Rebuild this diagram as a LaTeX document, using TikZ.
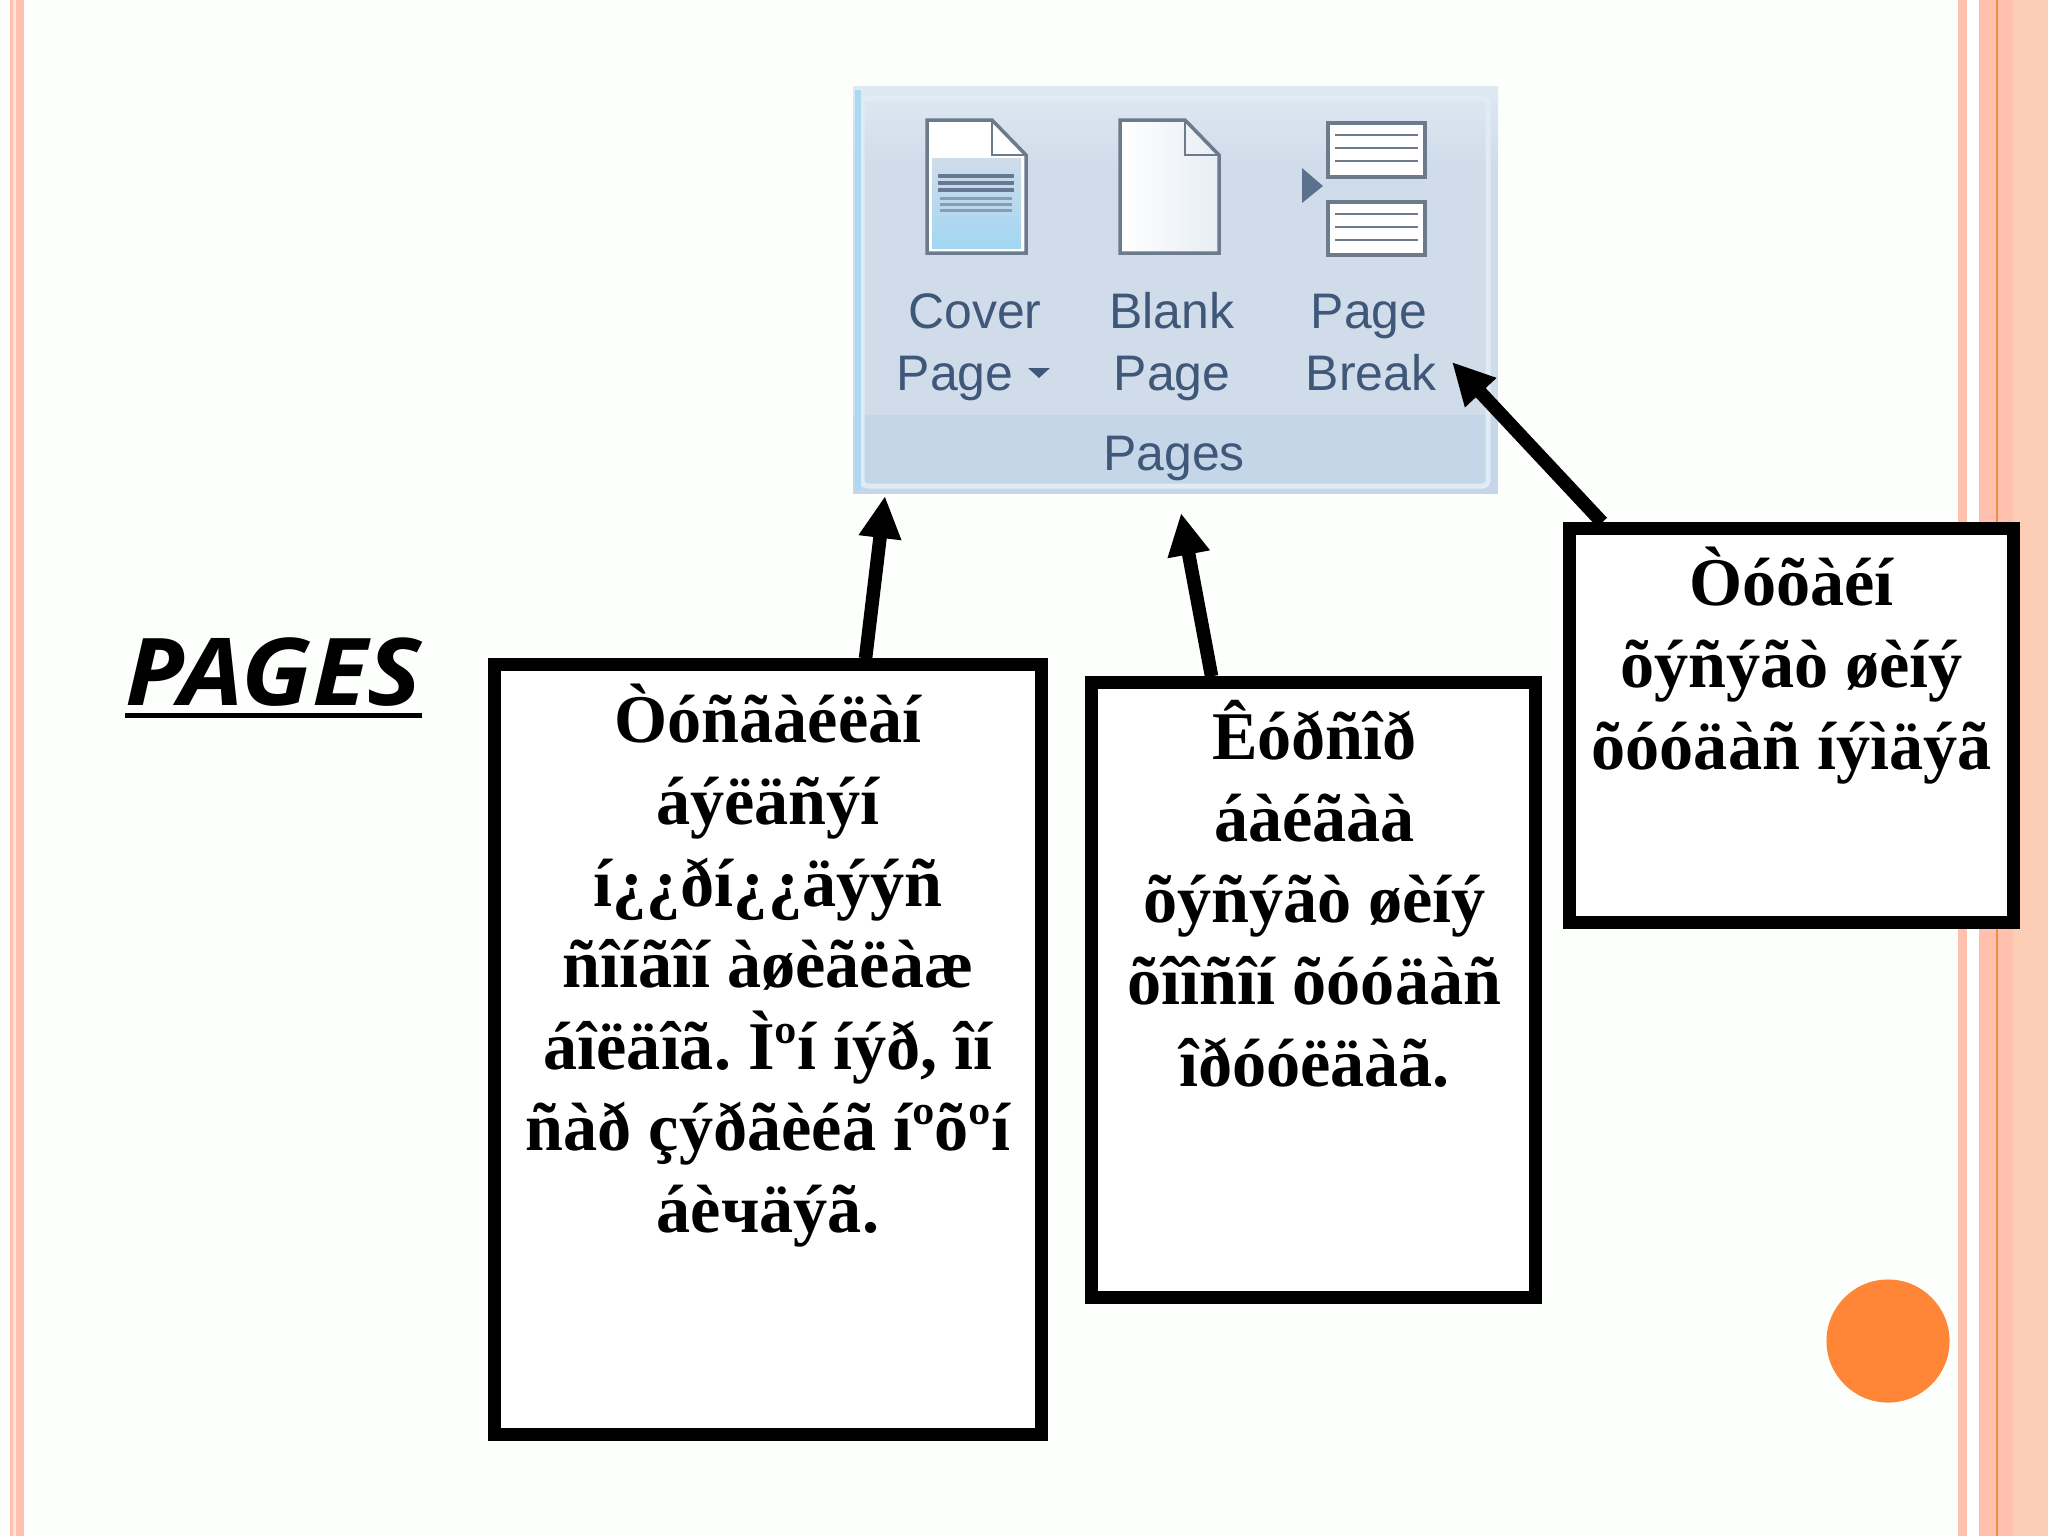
\documentclass[tikz,border=0pt]{standalone}
\usepackage{fontspec}
\setmainfont{Liberation Serif}
\newfontfamily\pagesfont[FakeStretch=1.09]{Open Sans}
\newfontfamily\ribbonfont{Liberation Sans}
\usetikzlibrary{arrows.meta}

\definecolor{stripe}{HTML}{FFC0AD}
\definecolor{stripepale}{HTML}{FBCDB5}
\definecolor{stripeline}{HTML}{F58A45}
\definecolor{dotfill}{HTML}{FF8636}
\definecolor{ribbontop}{HTML}{DFE9F3}
\definecolor{ribbonmid}{HTML}{D0DCEA}
\definecolor{ribbonband}{HTML}{C5D6E9}
\definecolor{ribbonedge}{HTML}{E0EBF5}
\definecolor{ribbontext}{HTML}{3F5879}
\definecolor{iconedge}{HTML}{6B7B8C}
\definecolor{coverblue}{HTML}{A2D6F2}

\tikzset{
  infobox/.style={draw=black,line width=0.13cm,fill=white,inner sep=0pt},
  infotext/.style={anchor=north,align=center,font=\fontsize{19.4}{23.2}\selectfont\bfseries},
  pointer/.style={line width=0.135cm,-{Triangle[length=0.42cm,width=0.4cm]}},
  ribbonlabel/.style={text=ribbontext,align=center,anchor=base,font=\ribbonfont\fontsize{14.2}{17.6}\selectfont},
  pageicon/.style={draw=iconedge,line width=0.035cm,left color=white,right color=#1},
}

\begin{document}
\begin{tikzpicture}[x=0.01cm,y=-0.01cm]
\frenchspacing
\useasboundingbox (0,0) rectangle (2048,1536);
\fill[white!99!green] (0,0) rectangle (2048,1536);

%% side stripes
\fill[stripe] (10,0) rectangle (13,1536);
\fill[stripe!45] (13,0) rectangle (16,1536);
\fill[stripe] (16,0) rectangle (24,1536);
\fill[stripe] (1958,0) rectangle (1967,1536);
\fill[white] (1967,0) rectangle (1979,1536);
\fill[stripe] (1979,0) rectangle (2013,1536);
\fill[stripepale] (2013,0) rectangle (2048,1536);
\fill[stripeline] (1996,0) rectangle (1997.5,1536);

\node[circle,fill=dotfill,minimum size=1.23cm,inner sep=0pt] (dot) at (1888,1341) {};

\node[anchor=base west,inner sep=0pt,font=\pagesfont\fontsize{26.6}{30}\selectfont\bfseries\itshape] (title) at (125,705) {PAGES};
\draw[black,line width=0.05cm] ([yshift=-0.1cm]title.base west) -- ([yshift=-0.1cm]title.base east);

%% ribbon picture
\node[inner sep=0pt,minimum width=6.45cm,minimum height=4.08cm,fill=ribbonmid] (ribbon) at (1175.5,290) {};
\shade[top color=ribbontop,bottom color=ribbonmid] (853,86) rectangle (1498,165);
\fill[ribbonband] (853,415) rectangle (1498,494);
\draw[ribbonedge,line width=0.05cm,rounded corners=0.05cm] (862,98) rectangle (1488,486);
\fill[cyan!25!ribbonedge] (855,90) rectangle (861,490);

\draw[pageicon=white] (927,120) -- (992,120) -- (1026,155) -- (1026,253) -- (927,253) -- cycle;
\shade[top color=ribbonmid,bottom color=coverblue] (932,158) rectangle (1021,248);
\draw[iconedge,line width=0.025cm] (992,120) -- (992,155) -- (1026,155);
\foreach \rowy in {176,183,190}
  \draw[ribbontext!80,line width=0.04cm] (938,\rowy) -- (1014,\rowy);
\foreach \rowy in {198,204,210}
  \draw[ribbontext!60,line width=0.03cm] (940,\rowy) -- (1012,\rowy);
\draw[pageicon=ribbonmid!50] (1120,120) -- (1185,120) -- (1219,155) -- (1219,253) -- (1120,253) -- cycle;
\draw[iconedge,line width=0.025cm] (1185,120) -- (1185,155) -- (1219,155);

\draw[pageicon=white] (1328,123) rectangle (1425,177);
\draw[pageicon=white] (1328,202) rectangle (1425,255);
\foreach \rowy in {135,148,161,214,227,240}
  \draw[iconedge,line width=0.02cm] (1335,\rowy) -- (1418,\rowy);
\fill[ribbontext!85] (1302,168) -- (1323,186) -- (1302,203) -- cycle;

\node[ribbonlabel] (coverlabel) at (975,328) {Cover};
\node[ribbonlabel] (coverpage) at (955,390) {Page};
\fill[ribbontext] (1028,368) -- (1050,368) -- (1039,378) -- cycle;
\node[ribbonlabel] (blanklabel) at (1172,328) {Blank};
\node[ribbonlabel] (blankpage) at (1172,390) {Page};
\node[ribbonlabel] (breaklabel) at (1369,328) {Page};
\node[ribbonlabel] (breakpage) at (1371,390) {Break};
\node[ribbonlabel] (pageslabel) at (1174,470) {Pages};

%% boxes
\node[infobox,minimum width=5.47cm,minimum height=7.69cm] (coverbox) at (768,1049.5) {};
\node[infotext] (covertext) at (768,672) {Òóñãàéëàí\\áýëäñýí\\í¿¿ðí¿¿äýýñ\\ñîíãîí àøèãëàæ\\áîëäîã. Ìºí íýð, îí\\ñàð çýðãèéã íºõºí\\áèчäýã.};

\node[infobox,minimum width=4.43cm,minimum height=6.14cm] (blankbox) at (1313.5,990) {};
\node[infotext] (blanktext) at (1314.5,688) {Êóðñîð\\áàéãàà\\õýñýãò øèíý\\õîîñîí õóóäàñ\\îðóóëäàã.};

\node[infobox,minimum width=4.43cm,minimum height=3.93cm] (breakbox) at (1791.5,725.5) {};
\node[infotext] (breaktext) at (1791.5,535) {Òóõàéí\\õýñýãò øèíý\\õóóäàñ íýìäýã};

%% arrows
\coordinate (covertip) at (885,496);
\coordinate (blanktip) at (1181,513);
\coordinate (breaktip) at (1452,362);
\draw[pointer] (coverbox.76) -- (covertip);
\draw[pointer] (blankbox.108.1) -- (blanktip);
\draw[pointer] (breakbox.133.6) -- (breaktip);

\end{tikzpicture}
\end{document}
